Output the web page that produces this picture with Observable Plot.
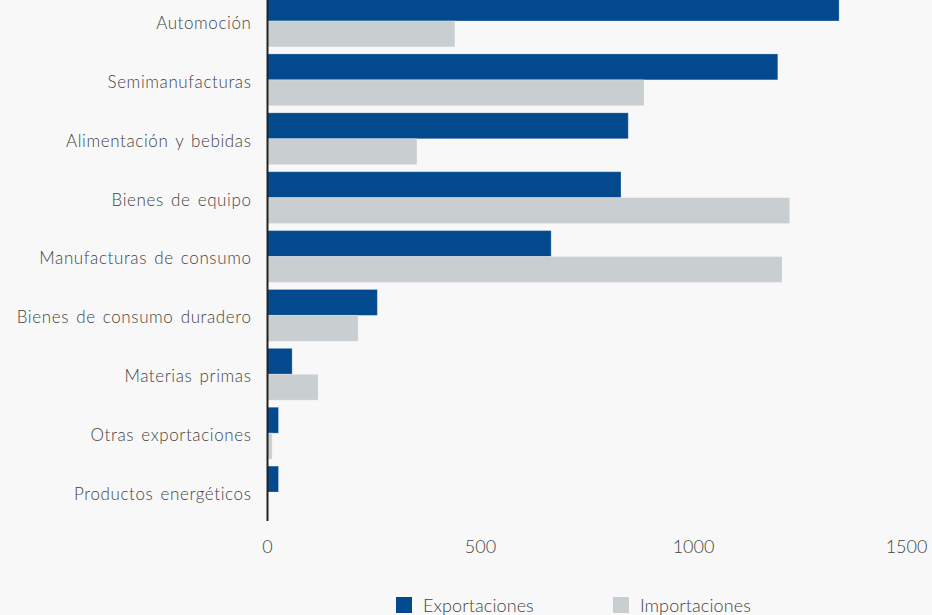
<!DOCTYPE html>
<html>
<head>
<meta charset="utf-8">
<script src="https://cdn.jsdelivr.net/npm/d3@7"></script>
<script src="https://cdn.jsdelivr.net/npm/@observablehq/plot@0.6"></script>
<style>
  html, body { margin: 0; padding: 0; background: #f8f8f8; }
  body { width: 932px; height: 615px; position: relative; overflow: hidden; font-family: Lato, "Open Sans", sans-serif; font-weight: 300; }
  #chart svg { display: block; background: #f8f8f8; }
  #chart svg g[aria-label="y-axis tick label"] text { letter-spacing: 0.6px; word-spacing: 2px; }
  #legend { position: absolute; top: 594px; left: 396px; display: flex; align-items: center; font-size: 18px; color: #444; font-weight: 300; letter-spacing: 0.1px; }
  .item { display: flex; align-items: center; }
  .sw { width: 16px; height: 16px; margin-right: 11px; }
</style>
</head>
<body>
<div id="chart"></div>
<div id="legend"></div>
<script>
const categories = [
  "Automoción",
  "Semimanufacturas",
  "Alimentación y bebidas",
  "Bienes de equipo",
  "Manufacturas de consumo",
  "Bienes de consumo duradero",
  "Materias primas",
  "Otras exportaciones",
  "Productos energéticos"
];
const exportaciones = [1343, 1199, 848, 831, 667, 259, 59, 27, 27];
const importaciones = [441, 885, 352, 1227, 1209, 214, 120, 12, 0];
const seriesNames = ["Exportaciones", "Importaciones"];
const seriesColors = ["#03498e", "#c9ced1"];
const xTicks = [0, 500, 1000, 1500];

const rows = categories.map((c, i) => ({category: c, exp: exportaciones[i], imp: importaciones[i]}));

const yRange = [-12, 525];
const pad = 0.12;
const step = (yRange[1] - yRange[0]) / (categories.length + pad);
const half = step * (1 - pad) / 2;

const chart = Plot.plot({
  width: 932,
  height: 580,
  marginLeft: 267,
  marginRight: 26,
  marginTop: 0,
  marginBottom: 59,
  style: {background: "#f8f8f8", fontFamily: "Lato, 'Open Sans', sans-serif", fontSize: "17px", color: "#444"},
  x: {domain: [0, 1500]},
  y: {domain: categories, range: yRange, padding: pad, round: false},
  marks: [
    Plot.barX(rows, {x: "exp", y: "category", fill: seriesColors[0], insetBottom: half, stroke: "#ffffff", strokeOpacity: 0.25, strokeWidth: 1}),
    Plot.barX(rows, {x: "imp", y: "category", fill: seriesColors[1], insetTop: half, stroke: "#ffffff", strokeOpacity: 0.25, strokeWidth: 1}),
    Plot.ruleX([0], {stroke: "#222", strokeWidth: 2}),
    Plot.axisY({tickSize: 0, tickPadding: 16, dy: 2, fontSize: 17, fontWeight: 300, fill: "#444", label: null}),
    Plot.axisX({ticks: xTicks, tickFormat: d => String(d), tickSize: 0, tickPadding: 19, fontSize: 18, fontWeight: 300, fill: "#444", label: null})
  ]
});
document.getElementById("chart").appendChild(chart);

const legend = document.getElementById("legend");
seriesNames.forEach((name, i) => {
  const item = document.createElement("div");
  item.className = "item";
  item.style.marginRight = i === 0 ? "79px" : "0";
  const sw = document.createElement("div");
  sw.className = "sw";
  sw.style.background = seriesColors[i];
  const t = document.createElement("span");
  t.textContent = name;
  item.appendChild(sw);
  item.appendChild(t);
  legend.appendChild(item);
});
</script>
</body>
</html>
